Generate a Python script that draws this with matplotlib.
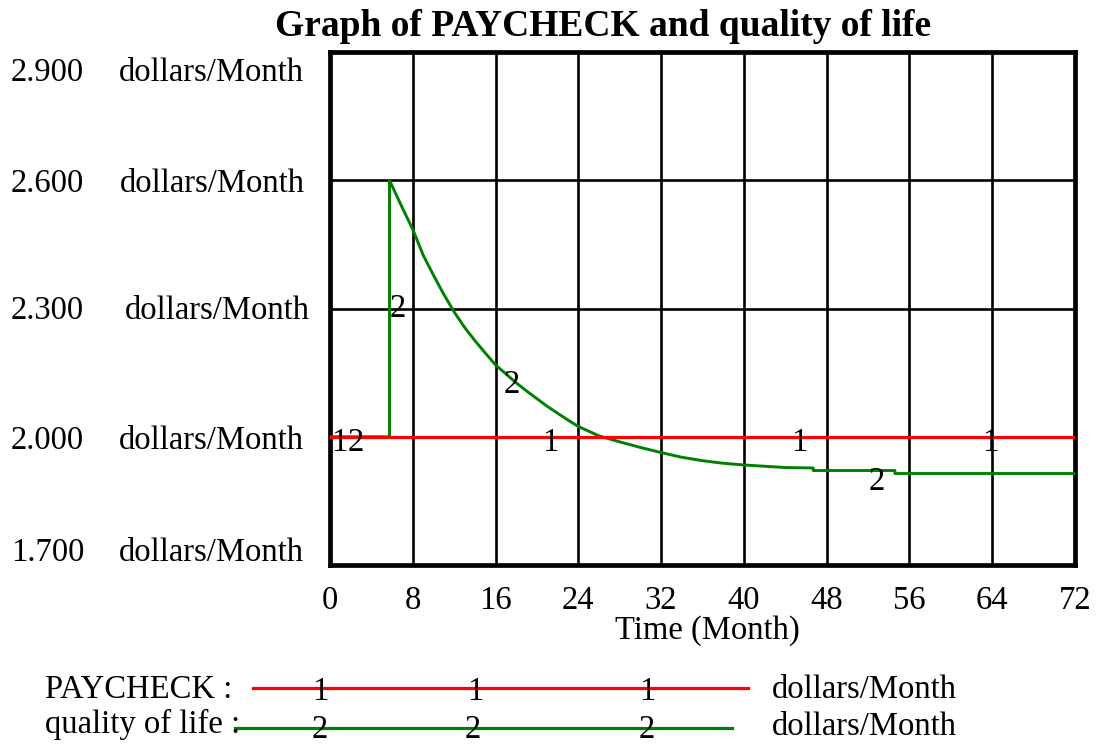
import matplotlib
matplotlib.use('Agg')
import matplotlib.pyplot as plt

# ---------------- data ----------------
time_paycheck = [0, 72]
paycheck = [2.0, 2.0]

time_qol = [0, 5.75, 5.75, 7, 8, 9, 10, 11, 12, 13, 14, 15, 16, 17, 18, 19, 20,
            21, 22, 23, 24, 26, 28, 30, 32, 34, 36, 38, 40, 42, 44, 46.7, 46.7,
            54.6, 54.6, 72]
qol = [2.0, 2.0, 2.6, 2.535, 2.485, 2.425, 2.378, 2.333, 2.292, 2.256, 2.225,
       2.196, 2.168, 2.147, 2.126, 2.107, 2.089, 2.071, 2.055, 2.039, 2.024,
       2.002, 1.988, 1.975, 1.963, 1.952, 1.944, 1.938, 1.934, 1.931, 1.928,
       1.927, 1.921, 1.921, 1.914, 1.914]

x_ticks = [0, 8, 16, 24, 32, 40, 48, 56, 64, 72]
y_ticks = [1.7, 2.0, 2.3, 2.6, 2.9]
y_tick_labels = ["1.700", "2.000", "2.300", "2.600", "2.900"]
unit = "dollars/Month"

# series number markers (time, value)
marks1 = [(0.87, 1.986), (21.26, 1.986), (45.4, 1.986), (63.8, 1.986)]
marks2 = [(2.5, 1.986), (6.5, 2.299), (17.6, 2.122), (52.85, 1.894)]

# ---------------- style ----------------
RED = '#ff0000'
GREEN = '#008000'
FONT = 'Liberation Serif'
FS = 23.5

W, H = 1105, 746
fig = plt.figure(figsize=(W / 100, H / 100), dpi=100)
plt.rcParams['font.family'] = [FONT, 'DejaVu Serif']

L, R, T, B = 330, 1075, 52, 565
ax = fig.add_axes([L / W, 1 - B / H, (R - L) / W, (B - T) / H])
ax.set_xlim(0, 72)
ax.set_ylim(1.7, 2.9)
ax.set_xticks(x_ticks)
ax.set_xticklabels([str(v) for v in x_ticks], fontsize=FS, family=FONT)
ax.set_yticks(y_ticks)
ax.set_yticklabels([])
ax.tick_params(length=0, pad=15)
for s in ax.spines.values():
    s.set_linewidth(3.4)
    s.set_color('black')
ax.grid(True, color='black', linewidth=1.9)
ax.set_axisbelow(True)

ax.plot(time_qol, qol, color=GREEN, linewidth=2.1, zorder=3)
ax.plot(time_paycheck, paycheck, color=RED, linewidth=2.3, zorder=3.5)

for t, v in marks1:
    ax.text(t, v, "1", fontsize=FS, family=FONT, ha='center', va='center', zorder=4)
for t, v in marks2:
    ax.text(t, v, "2", fontsize=FS, family=FONT, ha='center', va='center', zorder=4)

# y tick labels: number + unit, left aligned at fixed figure x
dy_px = {1.7: -12, 2.0: 4, 2.3: 2, 2.6: 4, 2.9: 21}
unit_x = {1.7: 119, 2.0: 119, 2.3: 125, 2.6: 120, 2.9: 119}
for v, lab in zip(y_ticks, y_tick_labels):
    off = -dy_px[v] * 0.72
    ax.annotate(lab, xy=(11 / W, v), xycoords=(fig.transFigure, ax.transData),
                xytext=(0, off), textcoords='offset points',
                fontsize=FS, family=FONT, ha='left', va='center',
                annotation_clip=False)
    ax.annotate(unit, xy=(unit_x[v] / W, v), xycoords=(fig.transFigure, ax.transData),
                xytext=(0, off), textcoords='offset points',
                fontsize=FS, family=FONT, ha='left', va='center',
                annotation_clip=False)

# overlay in pixel coordinates for title, x label and legend
ov = fig.add_axes([0, 0, 1, 1], zorder=-1)
ov.set_xlim(0, W)
ov.set_ylim(H, 0)
ov.axis('off')

ov.text(603, 27, "Graph of PAYCHECK and quality of life", fontsize=27,
        family=FONT, fontweight='bold', ha='center', va='center')
ov.text(707, 631, "Time (Month)", fontsize=FS, family=FONT, ha='center', va='center')

# legend
ov.text(45, 690, "PAYCHECK :", fontsize=FS, family=FONT, ha='left', va='center')
ov.plot([253, 748], [688, 688], color=RED, linewidth=2.3)
for x in [320, 475, 647]:
    ov.text(x, 692, "1", fontsize=FS, family=FONT, ha='center', va='center')
ov.text(772, 690, unit, fontsize=FS, family=FONT, ha='left', va='center')

ov.text(45, 724, "quality of life :", fontsize=FS, family=FONT, ha='left', va='center')
ov.plot([235, 732], [728, 728], color=GREEN, linewidth=2.3)
for x in [320, 473, 647]:
    ov.text(x, 730, "2", fontsize=FS, family=FONT, ha='center', va='center')
ov.text(772, 727, unit, fontsize=FS, family=FONT, ha='left', va='center')

fig.savefig("out.png", dpi=100)
